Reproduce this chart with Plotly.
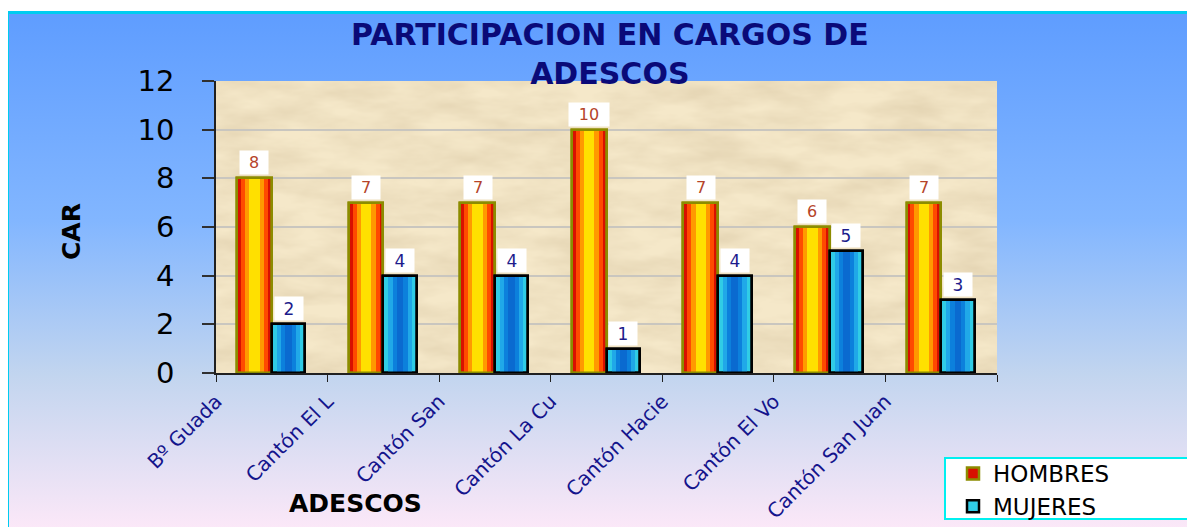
import base64
import plotly.graph_objects as go

categories = ["Bº Guada", "Cantón El L", "Cantón San", "Cantón La Cu",
              "Cantón Hacie", "Cantón El Vo", "Cantón San Juan"]
hombres = [8, 7, 7, 10, 7, 6, 7]
mujeres = [2, 4, 4, 1, 4, 5, 3]
y_ticks = [0, 2, 4, 6, 8, 10, 12]

# the page puts the figure 8px in from the top-left corner of the window
OFF = 8
W, H = 1195 - OFF, 527 - OFF

# plot area edges in window pixels, used to place things that sit outside it
PL, PR, PT, PB = 216, 997, 81, 373


def px(x):
    return (x - PL) / (PR - PL)


def py(y):
    return (PB - y) / (PB - PT)


def svg_uri(svg):
    return "data:image/svg+xml;base64," + base64.b64encode(svg.encode()).decode()


gradient_svg = """<svg xmlns='http://www.w3.org/2000/svg' width='100' height='100' viewBox='0 0 100 100' preserveAspectRatio='none'>
<defs><linearGradient id='g' x1='0' y1='0' x2='0' y2='1'>
<stop offset='0' stop-color='#5f9dff'/><stop offset='0.4' stop-color='#82b6ff'/>
<stop offset='0.7' stop-color='#c2d5ef'/><stop offset='1' stop-color='#fce8f8'/>
</linearGradient></defs><rect width='100' height='100' fill='url(#g)'/></svg>"""

texture_svg = """<svg xmlns='http://www.w3.org/2000/svg' width='781' height='292' viewBox='0 0 781 292' preserveAspectRatio='none'>
<filter id='n' x='0' y='0' width='100%' height='100%'>
<feTurbulence type='fractalNoise' baseFrequency='0.015 0.045' numOctaves='4' seed='7'/>
<feColorMatrix type='matrix' values='0 0 0 0 0.7  0 0 0 0 0.58  0 0 0 0 0.38  1.0 0 0 0 -0.3'/>
</filter><rect width='781' height='292' fill='#f5e8c9'/><rect width='781' height='292' filter='url(#n)'/></svg>"""

x = list(range(len(categories)))

# (relative width, colour) layers, outermost first, to fake the striped fill
h_layers = [(1.0, "#d81000"), (0.78, "#ff4a00"), (0.55, "#ff9900"), (0.3, "#ffe000")]
m_layers = [(1.0, "#30cce6"), (0.7, "#20a8e8"), (0.45, "#0c80dc"), (0.2, "#0a6ad0")]


def bar_traces(name, values, center, width, layers, edge):
    traces = []
    for k, (rel, color) in enumerate(layers):
        w = width * rel
        traces.append(go.Bar(
            x=x, y=values, name=name, legendgroup=name,
            showlegend=(k == 0), width=w, offset=center - w / 2,
            marker=dict(color=color, line=dict(color=edge, width=2.5 if k == 0 else 0)),
            hoverinfo="skip" if k else None,
        ))
    traces.append(go.Bar(
        x=x, y=values, name=name, legendgroup=name, showlegend=False,
        width=width, offset=center - width / 2, hoverinfo="skip",
        marker=dict(color="rgba(0,0,0,0)", line=dict(color=edge, width=2.5)),
    ))
    return traces


H_W, M_W = 0.31, 0.30
H_C, M_C = -0.155, 0.15

fig = go.Figure(
    bar_traces("HOMBRES", hombres, H_C, H_W, h_layers, "#8c8c00")
    + bar_traces("MUJERES", mujeres, M_C, M_W, m_layers, "#000000")
)

annotations = []
for i in x:
    annotations.append(dict(
        x=i + H_C, y=hombres[i], text=str(hombres[i]), showarrow=False,
        xanchor="center", yanchor="bottom", yshift=3, bgcolor="white",
        width=14 + 12 * len(str(hombres[i])), height=21,
        font=dict(family="DejaVu Sans", size=16, color="#b5442a"),
    ))
    annotations.append(dict(
        x=i + M_C, y=mujeres[i], text=str(mujeres[i]), showarrow=False,
        xanchor="center", yanchor="bottom", yshift=3, bgcolor="white",
        width=14 + 12 * len(str(mujeres[i])), height=21,
        font=dict(family="DejaVu Sans", size=17, color="#1c1c8c"),
    ))


def label(text, xp, yp, size, color, angle=0):
    return dict(xref="paper", yref="paper", x=px(xp), y=py(yp), text=text,
                xanchor="center", yanchor="middle", textangle=angle, showarrow=False,
                font=dict(family="DejaVu Sans", size=size, color=color))


annotations += [
    label("<b>PARTICIPACION EN CARGOS DE<br>ADESCOS</b>", 610, 54, 30, "#0a0a78"),
    label("<b>CAR</b>", 71, 232, 25, "black", -90),
    label("<b>ADESCOS</b>", 355, 503, 25, "black"),
]

fig.update_layout(
    width=W, height=H,
    margin=dict(l=PL - OFF, r=1195 - PR, t=PT - OFF, b=527 - PB, autoexpand=False),
    paper_bgcolor="white",
    plot_bgcolor="#f3e5c4",
    barmode="overlay",
    bargap=0,
    showlegend=True,
    legend=dict(
        x=px(953), y=py(452), xanchor="left", yanchor="top",
        bgcolor="rgba(0,0,0,0)", borderwidth=0,
        font=dict(family="DejaVu Sans", size=23, color="black"),
        tracegroupgap=0,
    ),
    annotations=annotations,
    images=[
        dict(source=svg_uri(gradient_svg), xref="paper", yref="paper",
             x=px(9), y=py(14), sizex=px(1200) - px(9), sizey=py(14) - py(530),
             xanchor="left", yanchor="top", sizing="stretch", layer="below"),
        dict(source=svg_uri(texture_svg), xref="paper", yref="paper",
             x=0, y=1, sizex=1, sizey=1,
             xanchor="left", yanchor="top", sizing="stretch", layer="below"),
    ],
    shapes=[
        dict(type="rect", xref="paper", yref="paper", layer="below",
             x0=px(7.5), y0=py(540), x1=px(1210), y1=py(12.5),
             line=dict(color="#00ccf0", width=3)),
        dict(type="rect", xref="paper", yref="paper", layer="below",
             x0=px(945), y0=py(519), x1=px(1190), y1=py(458),
             fillcolor="white", line=dict(color="#00f0f0", width=2)),
    ],
    xaxis=dict(
        range=[-0.5, len(categories) - 0.5],
        tickmode="array", tickvals=[i - 0.5 for i in x], ticktext=categories,
        tickangle=-45, ticks="outside", ticklen=7, tickcolor="#202020",
        tickfont=dict(family="DejaVu Sans", size=20, color="#14148c"),
        minor=dict(tickmode="array", tickvals=[len(x) - 0.5],
                   ticks="outside", ticklen=7, tickcolor="#202020", showgrid=False),
        showline=True, linecolor="#202020", linewidth=1.5,
        showgrid=False, zeroline=False, fixedrange=True,
    ),
    yaxis=dict(
        range=[0, 12], tickvals=y_ticks,
        ticks="outside", ticklen=12, tickcolor="#303030", tickwidth=1.5,
        ticklabelstandoff=22,
        tickfont=dict(family="DejaVu Sans", size=29, color="black"),
        showline=True, linecolor="#202020", linewidth=1.5,
        showgrid=True, gridcolor="#c9c6bf", gridwidth=1.5, zeroline=False,
        fixedrange=True,
    ),
)

fig.write_html("out.html")
